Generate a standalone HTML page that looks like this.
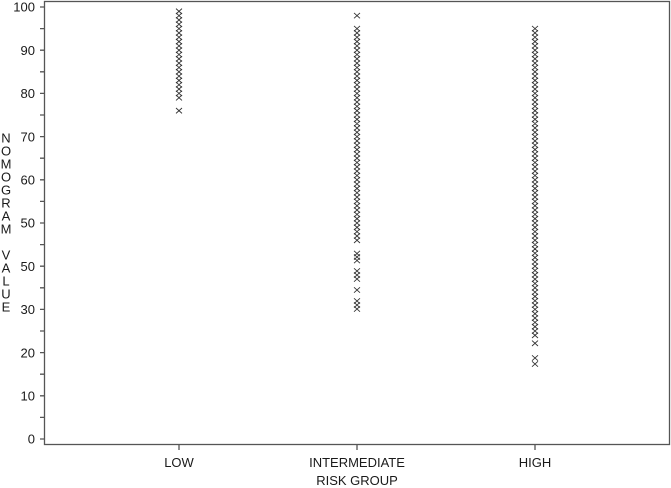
<!DOCTYPE html>
<html><head><meta charset="utf-8"><style>
html,body{margin:0;padding:0;background:#fff;}
svg{display:block;}
text{font-family:"Liberation Sans",Arial,sans-serif;font-size:13px;fill:#1a1a1a;}
</style></head><body>
<svg width="671" height="488" viewBox="0 0 671 488" xmlns="http://www.w3.org/2000/svg" xmlns:xlink="http://www.w3.org/1999/xlink">
<defs>
<path id="m1" d="M-3 -2.7l6 5.4m0-5.4l-6 5.4"/>
<path id="m10" d="M-3 -2.7
l6 5.4m0-5.4l-6 5.4m0-1.08
l6 5.4m0-5.4l-6 5.4m0-1.08
l6 5.4m0-5.4l-6 5.4m0-1.08
l6 5.4m0-5.4l-6 5.4m0-1.08
l6 5.4m0-5.4l-6 5.4m0-1.08
l6 5.4m0-5.4l-6 5.4m0-1.08
l6 5.4m0-5.4l-6 5.4m0-1.08
l6 5.4m0-5.4l-6 5.4m0-1.08
l6 5.4m0-5.4l-6 5.4m0-1.08
l6 5.4m0-5.4l-6 5.4"/>
</defs>
<rect x="0" y="0" width="671" height="488" fill="#fff"/>
<g stroke="#555" stroke-width="1.3" fill="none">
<rect x="44.5" y="1.5" width="625" height="443"/>
<path d="M40 439H44M40 417.4H44M40 395.8H44M40 374.2H44M40 352.6H44M40 331H44M40 309.4H44M40 287.8H44M40 266.2H44M40 244.6H44M40 223H44M40 201.4H44M40 179.8H44M40 158.2H44M40 136.6H44M40 115H44M40 93.4H44M40 71.8H44M40 50.2H44M40 28.6H44M40 7H44"/>
<path d="M179 445V450M357 445V450M535 445V450"/>
</g>
<g text-anchor="end">
<text x="35" y="443.7">0</text>
<text x="35" y="400.5">10</text>
<text x="35" y="357.3">20</text>
<text x="35" y="314.1">30</text>
<text x="35" y="270.9">50</text>
<text x="35" y="227.7">50</text>
<text x="35" y="184.5">60</text>
<text x="35" y="141.3">70</text>
<text x="35" y="98.1">80</text>
<text x="35" y="54.9">90</text>
<text x="35" y="11.7">100</text>
</g>
<g text-anchor="middle">
<text x="179" y="467">LOW</text>
<text x="357" y="467">INTERMEDIATE</text>
<text x="535" y="467">HIGH</text>
<text x="357" y="485">RISK GROUP</text>
<text x="6" y="142.5">N</text>
<text x="6" y="155.5">O</text>
<text x="6" y="168.5">M</text>
<text x="6" y="181.5">O</text>
<text x="6" y="194.5">G</text>
<text x="6" y="207.5">R</text>
<text x="6" y="220.5">A</text>
<text x="6" y="233.5">M</text>
<text x="6" y="259.5">V</text>
<text x="6" y="272.5">A</text>
<text x="6" y="285.5">L</text>
<text x="6" y="298.5">U</text>
<text x="6" y="311.5">E</text>
</g>
<g stroke="#333" stroke-width="0.9" fill="none">
<!-- LOW -->
<use xlink:href="#m10" href="#m10" x="179" y="11.32"/>
<use xlink:href="#m10" href="#m10" x="179" y="54.52"/>
<use xlink:href="#m1" href="#m1" x="179" y="97.72"/>
<use xlink:href="#m1" href="#m1" x="179" y="110.68"/>
<!-- INTERMEDIATE -->
<use xlink:href="#m1" href="#m1" x="357" y="15.64"/>
<use xlink:href="#m10" href="#m10" x="357" y="28.6"/>
<use xlink:href="#m10" href="#m10" x="357" y="71.8"/>
<use xlink:href="#m10" href="#m10" x="357" y="115"/>
<use xlink:href="#m10" href="#m10" x="357" y="158.2"/>
<use xlink:href="#m10" href="#m10" x="357" y="201.4"/>
<use xlink:href="#m1" href="#m1" x="357" y="253.5"/>
<use xlink:href="#m1" href="#m1" x="357" y="257"/>
<use xlink:href="#m1" href="#m1" x="357" y="260.5"/>
<use xlink:href="#m1" href="#m1" x="357" y="271"/>
<use xlink:href="#m1" href="#m1" x="357" y="275"/>
<use xlink:href="#m1" href="#m1" x="357" y="279"/>
<use xlink:href="#m1" href="#m1" x="357" y="290"/>
<use xlink:href="#m1" href="#m1" x="357" y="301"/>
<use xlink:href="#m1" href="#m1" x="357" y="305"/>
<use xlink:href="#m1" href="#m1" x="357" y="309"/>
<!-- HIGH -->
<use xlink:href="#m10" href="#m10" x="535" y="28.6"/>
<use xlink:href="#m10" href="#m10" x="535" y="71.8"/>
<use xlink:href="#m10" href="#m10" x="535" y="115"/>
<use xlink:href="#m10" href="#m10" x="535" y="158.2"/>
<use xlink:href="#m10" href="#m10" x="535" y="201.4"/>
<use xlink:href="#m10" href="#m10" x="535" y="244.6"/>
<use xlink:href="#m10" href="#m10" x="535" y="287.8"/>
<use xlink:href="#m1" href="#m1" x="535" y="331"/>
<use xlink:href="#m1" href="#m1" x="535" y="335.32"/>
<use xlink:href="#m1" href="#m1" x="535" y="343.3"/>
<use xlink:href="#m1" href="#m1" x="535" y="358"/>
<use xlink:href="#m1" href="#m1" x="535" y="364"/>
</g>
</svg>
</body></html>
